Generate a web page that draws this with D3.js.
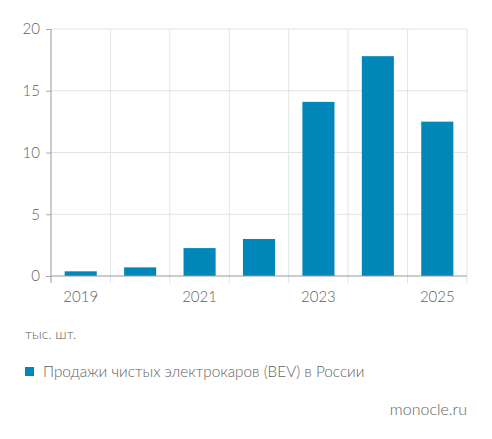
<!DOCTYPE html>
<html>
<head>
<meta charset="utf-8">
<script src="https://cdn.jsdelivr.net/npm/d3@7"></script>
<style>
  body { margin: 0; background: #fff; }
  text { font-family: Lato, "Open Sans", sans-serif; font-weight: 300; fill: #5f5f5f; }
</style>
</head>
<body>
<div id="chart"></div>
<script>
const years = ["2019", "2020", "2021", "2022", "2023", "2024", "2025"];
const sales = [0.38, 0.70, 2.26, 3.0, 14.1, 17.8, 12.5];
const yTicks = [0, 5, 10, 15, 20];
const xLabels = ["2019", "2021", "2023", "2025"];
const unitLabel = "тыс. шт.";
const seriesName = "Продажи чистых электрокаров (BEV) в России";
const source = "monocle.ru";

const width = 492, height = 439;
const plotLeft = 51, plotRight = 467, plotTop = 29, plotBottom = 276;
const barColor = "#0287bb";

const svg = d3.select("#chart").append("svg")
    .attr("width", width)
    .attr("height", height);

const x = d3.scaleBand().domain(years).range([plotLeft, plotRight]).padding(0);
const y = d3.scaleLinear().domain([0, 20]).range([plotBottom, plotTop]);

// horizontal grid
svg.selectAll(".hgrid")
    .data(yTicks.filter(d => d > 0))
    .enter().append("line")
    .attr("x1", plotLeft).attr("x2", plotRight)
    .attr("y1", d => y(d)).attr("y2", d => y(d))
    .attr("stroke", "#e4e4e4").attr("stroke-width", 1);

// vertical grid at band edges, running a little past the axis
const edges = years.map(d => x(d)).concat([x(years[years.length - 1]) + x.bandwidth()]).slice(1);
svg.selectAll(".vgrid")
    .data(edges)
    .enter().append("line")
    .attr("x1", d => d).attr("x2", d => d)
    .attr("y1", plotTop).attr("y2", plotBottom + 7)
    .attr("stroke", "#e4e4e4").attr("stroke-width", 1);

// bars
const barW = x.bandwidth() * 0.54;
svg.selectAll(".bar")
    .data(sales)
    .enter().append("rect")
    .attr("x", (d, i) => x(years[i]) + (x.bandwidth() - barW) / 2)
    .attr("y", d => y(d))
    .attr("width", barW)
    .attr("height", d => plotBottom - y(d))
    .attr("fill", barColor);

// y axis
const yAxis = svg.append("g")
    .attr("transform", `translate(${plotLeft},0)`)
    .call(d3.axisLeft(y).tickValues(yTicks).tickSize(5).tickPadding(6));
yAxis.select(".domain").remove();
yAxis.selectAll(".tick line").attr("stroke", "#aaa");
yAxis.selectAll(".tick text")
    .style("font-size", "15px")
    .style("font-family", "Lato, sans-serif")
    .style("font-weight", 300)
    .attr("fill", "#5f5f5f");
svg.append("line")
    .attr("x1", plotLeft).attr("x2", plotLeft)
    .attr("y1", plotTop).attr("y2", plotBottom + 7)
    .attr("stroke", "#999");

// x axis line
svg.append("line")
    .attr("x1", plotLeft).attr("x2", plotRight)
    .attr("y1", plotBottom).attr("y2", plotBottom)
    .attr("stroke", "#999");

// x labels
svg.selectAll(".xlab")
    .data(xLabels)
    .enter().append("text")
    .attr("x", d => x(d) + x.bandwidth() / 2)
    .attr("y", plotBottom + 26)
    .attr("text-anchor", "middle")
    .style("font-size", "15px")
    .text(d => d);

svg.append("text")
    .attr("x", 25).attr("y", 339)
    .style("font-size", "14px")
    .text(unitLabel);

// legend
svg.append("rect")
    .attr("x", 25).attr("y", 367)
    .attr("width", 9).attr("height", 9)
    .attr("fill", barColor);
svg.append("text")
    .attr("x", 43).attr("y", 377)
    .style("font-size", "15.3px")
    .text(seriesName);

svg.append("text")
    .attr("x", 467).attr("y", 415)
    .attr("text-anchor", "end")
    .style("font-size", "16px")
    .text(source);
</script>
</body>
</html>
